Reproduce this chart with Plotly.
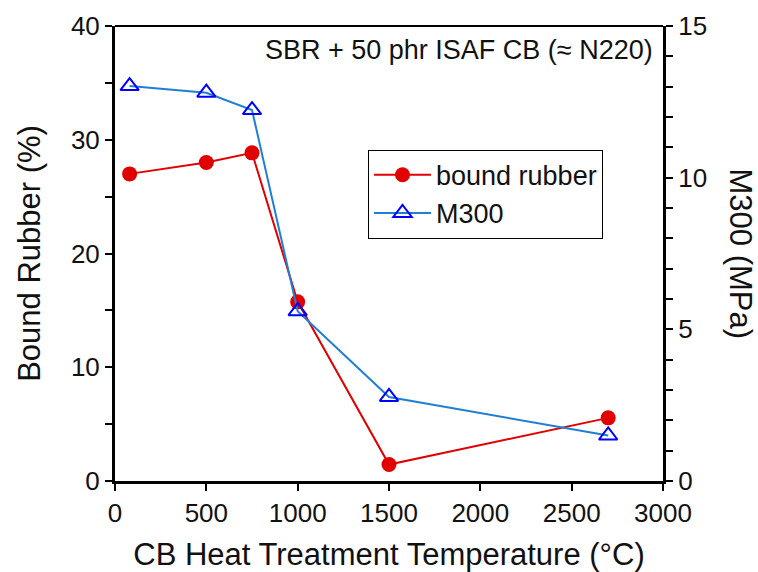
import plotly.graph_objects as go

temps = [80, 500, 750, 1000, 1500, 2700]
bound_rubber = [27.0, 28.0, 28.85, 15.75, 1.45, 5.55]
m300 = [13.02, 12.8, 12.23, 5.6, 2.77, 1.5]

FONT = "Liberation Sans, Arial, sans-serif"

fig = go.Figure()
fig.add_trace(go.Scatter(
    x=temps, y=bound_rubber, name="bound rubber", mode="lines+markers",
    line=dict(color="#e00000", width=2),
    marker=dict(symbol="circle", size=15, color="#e00000"),
    yaxis="y"))
fig.add_trace(go.Scatter(
    x=temps, y=m300, name="M300", mode="lines+markers",
    line=dict(color="#1f7fd4", width=2),
    marker=dict(symbol="triangle-up-open", size=16, color="#0000ff",
                line=dict(width=2, color="#0000ff")),
    yaxis="y2"))

axis_common = dict(showgrid=False, zeroline=False, showline=True, automargin=False,
                   linecolor="black", ticks="outside", tickcolor="black",
                   tickfont=dict(size=26, color="#111"))

fig.update_layout(
    width=758, height=572,
    margin=dict(l=115, r=95, t=26, b=91),
    paper_bgcolor="white", plot_bgcolor="white",
    font=dict(family=FONT, color="#111"),
    showlegend=True,
    legend=dict(x=0.4617, y=0.728, xanchor="left", yanchor="top",
                bordercolor="black", borderwidth=1, bgcolor="white",
                font=dict(size=27), itemwidth=57, tracegroupgap=2),
    xaxis=dict(range=[0, 3000], dtick=500, linewidth=3, ticklen=7, tickwidth=2,
               title=dict(text="CB Heat Treatment Temperature (°C)", font=dict(size=31), standoff=17),
               **axis_common),
    yaxis=dict(range=[0, 40], dtick=10, linewidth=3, ticklen=7, tickwidth=2,
               minor=dict(dtick=5, ticks="outside", ticklen=7, tickwidth=2, tickcolor="black"),
               title=dict(text="Bound Rubber (%)", font=dict(size=31), standoff=22),
               **axis_common),
    yaxis2=dict(range=[0, 15], dtick=5, overlaying="y", side="right", linewidth=3,
                ticklen=7, tickwidth=2,
                minor=dict(dtick=1, ticks="outside", ticklen=7, tickwidth=2, tickcolor="black"),
                **axis_common),
    shapes=[dict(type="line", xref="paper", yref="paper", x0=0, x1=1, y0=1, y1=1,
                 line=dict(color="black", width=2))],
    annotations=[
        dict(text="SBR + 50 phr ISAF CB (≈ N220)", xref="paper", yref="paper",
             x=0.985, y=0.947, xanchor="right", yanchor="middle", showarrow=False,
             font=dict(size=27, color="#111")),
        dict(text="M300 (MPa)", xref="paper", yref="paper", x=1.0, y=0.5,
             xshift=77, textangle=90, showarrow=False, xanchor="center", yanchor="middle",
             font=dict(size=31, color="#111")),
    ],
)

fig.write_html("out.html")
